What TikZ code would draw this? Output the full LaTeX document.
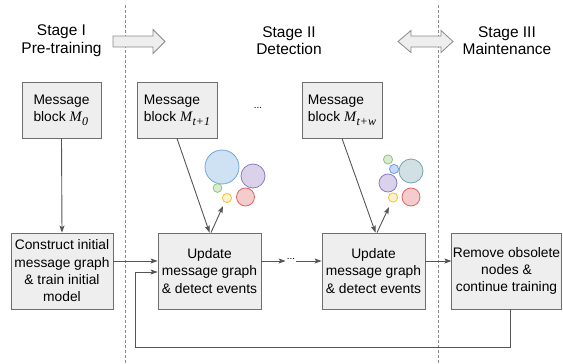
\documentclass[tikz,border=0pt]{standalone}
\usepackage{fontspec}
\setmainfont{Liberation Sans}
\newfontfamily\tms{Liberation Serif}
\usetikzlibrary{arrows.meta}
\definecolor{boxfill}{HTML}{EEEEEE}
\definecolor{boxline}{HTML}{6E6E6E}
\definecolor{conn}{HTML}{555555}
\definecolor{dashc}{HTML}{8A8A8A}
\definecolor{bluef}{HTML}{CFE2F3}\definecolor{bluel}{HTML}{6FA8DC}
\definecolor{purf}{HTML}{D9D2E9}\definecolor{purl}{HTML}{8E7CC3}
\definecolor{grnf}{HTML}{D9EAD3}\definecolor{grnl}{HTML}{93C47D}
\definecolor{redf}{HTML}{F4CCCC}\definecolor{redl}{HTML}{E06666}
\definecolor{yelf}{HTML}{FFF2CC}\definecolor{yell}{HTML}{F1C232}
\definecolor{tealf}{HTML}{D0E0E3}\definecolor{teall}{HTML}{76A5AF}
\definecolor{sbluef}{HTML}{C9DAF8}\definecolor{sbluel}{HTML}{6D9EEB}
\newcommand{\mblk}[1]{{\tms\itshape\fontsize{14.5}{17}\selectfont M\kern0.5pt\raisebox{-4pt}{\fontsize{12}{12}\selectfont #1}}}
\tikzset{
  procbox/.style={draw=boxline, fill=boxfill, line width=0.8pt, inner sep=1pt,
    align=center, font=\fontsize{13.8}{17.3}\selectfont},
  msgbox/.style={procbox, minimum width=80pt, minimum height=56pt, align=left},
  bigbox/.style={procbox, minimum height=76pt},
  stagetxt/.style={align=center, font=\fontsize{15.5}{17.5}\selectfont, inner sep=0pt},
  conn/.style={draw=conn, line width=0.9pt, -{Stealth[length=7pt,width=5pt,inset=1.5pt]}},
  sepline/.style={draw=dashc, line width=0.8pt, dash pattern=on 3pt off 2pt},
  fatarrow/.style={draw=dashc, fill=boxfill, line width=0.8pt, line join=miter},
  dotsnode/.style={inner sep=1pt, font=\fontsize{10}{10}\selectfont},
  bub/.style={line width=0.8pt}
}
\begin{document}
\begin{tikzpicture}[x=1pt,y=-1pt]
\useasboundingbox (0,0) rectangle (563,364);
% separators
\draw[sepline] (125,5) -- (125,364);
\draw[sepline] (438,5) -- (438,364);
% stage titles
\node[stagetxt] (s1) at (61.5,40.5) {Stage I\\Pre-training};
\node[stagetxt] (s2) at (289,40.5) {Stage II\\Detection};
\node[stagetxt] (s3) at (507,40.5) {Stage III\\Maintenance};
% fat arrows
\draw[fatarrow] (113,36) -- (153,36) -- (153,29.5) -- (165,41.5) -- (153,53.5) -- (153,47) -- (113,47) -- cycle;
\draw[fatarrow] (398,41.5) -- (411,30.5) -- (411,36) -- (441,36) -- (441,30.5) -- (453,41.5) -- (441,52.5) -- (441,47) -- (411,47) -- (411,52.5) -- cycle;
% message blocks
\node[msgbox, minimum width=79pt] (m0) at (61.5,110) {Message\\block \mblk{0}};
\node[msgbox] (m1) at (177,110) {Message\\block \mblk{t+1}};
\node[msgbox] (mw) at (342,110) {Message\\block \mblk{t+w}};
\node[dotsnode] (d1) at (258,108) {...};
% process boxes
\node[bigbox, minimum width=102pt] (c0) at (62,271) {Construct initial\\message graph\\\& train initial\\model};
\node[bigbox, minimum width=103pt] (u1) at (209.5,271) {Update\\message graph\\\& detect events};
\node[bigbox, minimum width=103pt] (u2) at (373.5,271) {Update\\message graph\\\& detect events};
\node[bigbox, minimum width=109pt] (rm) at (506.5,271) {Remove obsolete\\nodes \&\\continue training};
\node[dotsnode] (d2) at (291,259) {...};
% bubbles cluster 1
\draw[bub, draw=bluel, fill=bluef] (222,167) circle (17);
\draw[bub, draw=purl, fill=purf] (253,176) circle (12);
\draw[bub, draw=grnl, fill=grnf] (217.5,188) circle (4.4);
\draw[bub, draw=redl, fill=redf] (245.5,197) circle (9);
\draw[bub, draw=yell, fill=yelf] (227,198) circle (4.6);
% bubbles cluster 2
\draw[bub, draw=grnl, fill=grnf] (388,159.5) circle (4.6);
\draw[bub, draw=sbluel, fill=sbluef] (394,169) circle (4.6);
\draw[bub, draw=teall, fill=tealf] (411,171) circle (12);
\draw[bub, draw=purl, fill=purf] (388,183) circle (9);
\draw[bub, draw=yell, fill=yelf] (393,197.5) circle (4.6);
\draw[bub, draw=redl, fill=redf] (411,197) circle (9);
\coordinate (b1) at (223,206);
\coordinate (b2) at (389,207);
% connectors
\draw[conn] (m0.south) -- (c0.north);
\draw[conn] (m1.south) -- (u1.north);
\draw[conn] ([xshift=1.5pt]u1.north) -- (b1);
\draw[conn] (mw.south) -- ([xshift=2pt]u2.north);
\draw[conn] ([xshift=3.5pt]u2.north) -- (b2);
\draw[conn] ([yshift=10pt]c0.east) -- ([yshift=10pt]u1.west);
\draw[conn] ([yshift=10pt]u1.east) -- (d2.west |- 0,261);
\draw[conn] (d2.east |- 0,261) -- ([yshift=10pt]u2.west);
\draw[conn] ([yshift=10pt]u2.east) -- ([yshift=10pt]rm.west);
\coordinate (f1) at (510,347);
\coordinate (f2) at (135,347);
\coordinate (f3) at (135,272);
\draw[conn] ([xshift=3.5pt]rm.south) -- (f1) -- (f2) -- (f3) -- (u1.west |- f3);
\end{tikzpicture}
\end{document}
